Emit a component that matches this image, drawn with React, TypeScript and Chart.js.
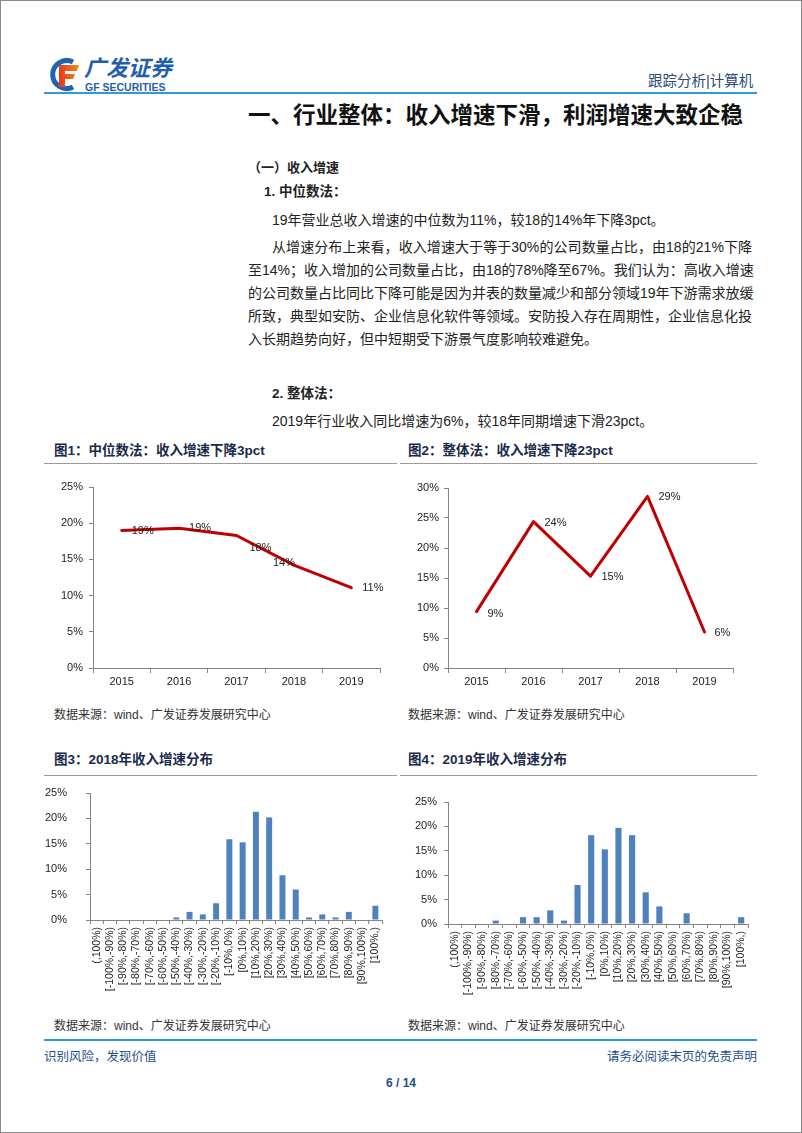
import React, { useEffect, useRef } from 'react';
import { Chart, registerables } from 'chart.js';
Chart.register(...registerables);

// ---------- data ----------
const YEARS = ['2015', '2016', '2017', '2018', '2019'];
const MEDIAN_GROWTH = [19.0, 19.3, 18.3, 14.2, 11.1];
const TOTAL_GROWTH = [9.4, 24.4, 15.3, 28.6, 6.0];
const BUCKETS = [
  '(,100%)', '[-100%,-90%)', '[-90%,-80%)', '[-80%,-70%)', '[-70%,-60%)', '[-60%,-50%)',
  '[-50%,-40%)', '[-40%,-30%)', '[-30%,-20%)', '[-20%,-10%)', '[-10%,0%)', '[0%,10%)',
  '[10%,20%)', '[20%,30%)', '[30%,40%)', '[40%,50%)', '[50%,60%)', '[60%,70%)',
  '[70%,80%)', '[80%,90%)', '[90%,100%)', '[100%,)',
];
const DIST_2018 = [0, 0, 0, 0, 0, 0, 0.5, 1.6, 1.1, 3.3, 15.9, 15.3, 21.3, 20.2, 8.8, 6.0, 0.5, 1.1, 0.5, 1.6, 0, 2.8];
const DIST_2019 = [0, 0, 0, 0.7, 0, 1.4, 1.4, 2.8, 0.7, 8.0, 18.2, 15.3, 19.7, 18.2, 6.5, 3.6, 0, 2.2, 0, 0, 0, 1.4];

const SANS = '"Liberation Sans", Arial, "Noto Sans CJK SC", sans-serif';
const CJK = '"Liberation Sans", "Noto Sans CJK SC", sans-serif';
const AXIS = '#868686';
const TICK_TEXT = '#222';

type Geo = { left: number; top: number; width: number; height: number; yW: number; xH: number; padTop: number; padRight: number; yPad: number };

function fixY(geo: Geo) {
  return (s: any) => { s.width = geo.yW; s.paddingTop = 6; s.paddingBottom = 6; };
}

function LineChart({ geo, values, yMax, nudges }: { geo: Geo; values: number[]; yMax: number; nudges: number[][] }) {
  const ref = useRef<HTMLCanvasElement>(null);
  useEffect(() => {
    const labelPlugin = {
      id: 'pointLabels',
      afterDatasetsDraw(chart: any) {
        const meta = chart.getDatasetMeta(0);
        const ctx = chart.ctx;
        ctx.save();
        ctx.font = `11px ${SANS}`;
        ctx.fillStyle = TICK_TEXT;
        ctx.textBaseline = 'middle';
        ctx.textAlign = 'left';
        meta.data.forEach((pt: any, i: number) => {
          const n = nudges[i] || [10, 1];
          ctx.fillText(Math.round(values[i]) + '%', pt.x + n[0], pt.y + n[1]);
        });
        ctx.restore();
      },
    };
    const chart = new Chart(ref.current!, {
      type: 'line',
      data: {
        labels: YEARS,
        datasets: [{
          data: values, borderColor: '#c00000', borderWidth: 3, pointRadius: 0, tension: 0,
          fill: false, borderJoinStyle: 'round', borderCapStyle: 'round',
        }],
      },
      options: {
        responsive: false,
        animation: false,
        layout: { padding: { top: geo.padTop, right: geo.padRight, left: 0, bottom: 0 } },
        plugins: { legend: { display: false }, tooltip: { enabled: false } },
        scales: {
          x: {
            offset: true,
            grid: { offset: true, drawOnChartArea: false, drawTicks: true, tickLength: 5, color: AXIS },
            border: { color: AXIS },
            ticks: { font: { family: SANS, size: 11 }, color: TICK_TEXT, padding: 2 },
            afterFit: (s: any) => { s.height = geo.xH; },
          },
          y: {
            min: 0, max: yMax,
            ticks: { stepSize: 5, callback: (v: any) => v + '%', font: { family: SANS, size: 11 }, color: TICK_TEXT, padding: geo.yPad },
            grid: { drawOnChartArea: false, tickLength: 4, color: AXIS },
            border: { color: AXIS },
            afterFit: fixY(geo),
          },
        },
      } as any,
      plugins: [labelPlugin],
    });
    return () => chart.destroy();
  }, []);
  return (
    <canvas ref={ref} width={geo.width} height={geo.height}
      style={{ position: 'absolute', left: geo.left, top: geo.top, width: geo.width, height: geo.height }} />
  );
}

function BarChart({ geo, values }: { geo: Geo; values: number[] }) {
  const ref = useRef<HTMLCanvasElement>(null);
  useEffect(() => {
    const chart = new Chart(ref.current!, {
      type: 'bar',
      data: {
        labels: BUCKETS,
        datasets: [{ data: values, backgroundColor: '#4f81bd', borderWidth: 0, barPercentage: 0.45, categoryPercentage: 1 }],
      },
      options: {
        responsive: false,
        animation: false,
        layout: { padding: { top: geo.padTop, right: geo.padRight, left: 0, bottom: 0 } },
        plugins: { legend: { display: false }, tooltip: { enabled: false } },
        scales: {
          x: {
            grid: { offset: true, drawOnChartArea: false, drawTicks: true, tickLength: 4, color: AXIS },
            border: { color: AXIS },
            ticks: { font: { family: SANS, size: 10.5 }, color: TICK_TEXT, padding: 3, autoSkip: false, minRotation: 90, maxRotation: 90 },
            afterFit: (s: any) => { s.height = geo.xH; },
          },
          y: {
            min: 0, max: 25,
            ticks: { stepSize: 5, callback: (v: any) => v + '%', font: { family: SANS, size: 11 }, color: TICK_TEXT, padding: geo.yPad },
            grid: { drawOnChartArea: false, tickLength: 4, color: AXIS },
            border: { color: AXIS },
            afterFit: fixY(geo),
          },
        },
      } as any,
    });
    return () => chart.destroy();
  }, []);
  return (
    <canvas ref={ref} width={geo.width} height={geo.height}
      style={{ position: 'absolute', left: geo.left, top: geo.top, width: geo.width, height: geo.height }} />
  );
}

function T({ x, y, size, bold, color, children, w, align, justify }: any) {
  const lh = Math.round(size * 1.5);
  return (
    <div style={{
      position: 'absolute', left: x, top: y - lh / 2, lineHeight: lh + 'px', fontSize: size,
      fontWeight: bold ? 700 : 400, color: color || '#222', fontFamily: CJK, whiteSpace: 'nowrap',
      width: w, textAlign: justify ? 'justify' : (align || 'left'), textAlignLast: justify ? 'justify' : undefined,
    } as any}>{children}</div>
  );
}

function Rule({ x1, x2, y, color, h }: any) {
  return <div style={{ position: 'absolute', left: x1, top: y, width: x2 - x1, height: h || 1, background: color }} />;
}

function Logo() {
  return (
    <div style={{ position: 'absolute', left: 46, top: 56 }}>
      <svg width="36" height="36" viewBox="0 0 36 36">
        <defs>
          <linearGradient id="fg" x1="0" y1="0" x2="1" y2="0">
            <stop offset="0" stopColor="#e8361e" />
            <stop offset="1" stopColor="#f08a1c" />
          </linearGradient>
        </defs>
        <path d="M27 6 A14 14 0 1 0 27 31" fill="none" stroke="#1f63b5" strokeWidth="5" />
        <path d="M13 9 H33 L31 15 H19 V18 H29 L27 23 H19 V31 H13 Z" fill="url(#fg)" />
      </svg>
      <div style={{ position: 'absolute', left: 38, top: 0, fontFamily: CJK, fontWeight: 700, fontStyle: 'italic', fontSize: 22, lineHeight: '25px', color: '#1f5fb0', whiteSpace: 'nowrap' }}>广发证券</div>
      <div style={{ position: 'absolute', left: 39, top: 25, fontFamily: SANS, fontWeight: 700, fontSize: 10.5, lineHeight: '12px', color: '#1f5fb0', whiteSpace: 'nowrap' }}>GF SECURITIES</div>
    </div>
  );
}

export default function App() {
  const navy = '#1b2a4a';
  const blueText = '#1f4e8c';
  const src = '数据来源：wind、广发证券发展研究中心';
  return (
    <div style={{ position: 'absolute', left: 0, top: 0, width: 802, height: 1133, background: '#fff', boxSizing: 'border-box', border: '1px solid #8a8a8a', overflow: 'hidden' }}>
      <div style={{ position: 'absolute', left: -1, top: -1, width: 802, height: 1133 }}>
        <Logo />
        <T x={648} y={81} size={14.5} color="#2d4b78">跟踪分析|计算机</T>
        <Rule x1={44} x2={757} y={92} h={2} color="#2e9ad6" />
        <T x={248} y={116} size={22.5} bold color="#111">一、行业整体：收入增速下滑，利润增速大致企稳</T>

        <T x={248} y={168} size={13} bold>（一）收入增速</T>
        <T x={264} y={192} size={13.5} bold>1. 中位数法：</T>
        <T x={272} y={220} size={14}>19年营业总收入增速的中位数为11%，较18的14%年下降3pct。</T>
        <T x={272} y={247} size={14} w={480} justify>从增速分布上来看，收入增速大于等于30%的公司数量占比，由18的21%下降</T>
        <T x={248} y={270} size={14} w={504} justify>至14%；收入增加的公司数量占比，由18的78%降至67%。我们认为：高收入增速</T>
        <T x={248} y={293} size={14} w={504} justify>的公司数量占比同比下降可能是因为并表的数量减少和部分领域19年下游需求放缓</T>
        <T x={248} y={316} size={14} w={504} justify>所致，典型如安防、企业信息化软件等领域。安防投入存在周期性，企业信息化投</T>
        <T x={248} y={339} size={14}>入长期趋势向好，但中短期受下游景气度影响较难避免。</T>

        <T x={272} y={394} size={13.5} bold>2. 整体法：</T>
        <T x={272} y={421} size={14}>2019年行业收入同比增速为6%，较18年同期增速下滑23pct。</T>

        <T x={54} y={451} size={13.5} bold color={navy}>图1：中位数法：收入增速下降3pct</T>
        <T x={408} y={451} size={13.5} bold color={navy}>图2：整体法：收入增速下降23pct</T>
        <Rule x1={44} x2={397} y={463} color="#9a9a9a" />
        <Rule x1={400} x2={757} y={463} color="#9a9a9a" />

        <LineChart geo={{ left: 44, top: 470, width: 356, height: 232, yW: 49, xH: 34, padTop: 17, padRight: 20, yPad: 6 }}
          values={MEDIAN_GROWTH} yMax={25} nudges={[[10, 1], [10, 0], [13, 12], [-21, -2], [11, 0]]} />
        <LineChart geo={{ left: 400, top: 470, width: 357, height: 232, yW: 48, xH: 34, padTop: 18, padRight: 24, yPad: 5 }}
          values={TOTAL_GROWTH} yMax={30} nudges={[[11, 2], [11, 1], [11, 1], [11, 1], [10, 1]]} />

        <T x={54} y={715} size={12} color="#333">{src}</T>
        <T x={408} y={715} size={12} color="#333">{src}</T>

        <T x={54} y={760} size={13.5} bold color={navy}>图3：2018年收入增速分布</T>
        <T x={408} y={760} size={13.5} bold color={navy}>图4：2019年收入增速分布</T>
        <Rule x1={44} x2={397} y={775} color="#9a9a9a" />
        <Rule x1={400} x2={757} y={775} color="#9a9a9a" />

        <BarChart geo={{ left: 44, top: 780, width: 356, height: 222, yW: 46, xH: 82, padTop: 13, padRight: 18, yPad: 19 }} values={DIST_2018} />
        <BarChart geo={{ left: 400, top: 780, width: 357, height: 222, yW: 48, xH: 78, padTop: 22, padRight: 9, yPad: 7 }} values={DIST_2019} />

        <T x={54} y={1026} size={12} color="#333">{src}</T>
        <T x={408} y={1026} size={12} color="#333">{src}</T>

        <Rule x1={44} x2={757} y={1039} h={2} color="#2e9ad6" />
        <T x={44} y={1057} size={12.5} color={blueText}>识别风险，发现价值</T>
        <T x={557} y={1057} size={12.5} color={blueText} w={200} align="right">请务必阅读末页的免责声明</T>
        <T x={351} y={1083} size={12} bold color={blueText} w={100} align="center">6 / 14</T>
      </div>
    </div>
  );
}
